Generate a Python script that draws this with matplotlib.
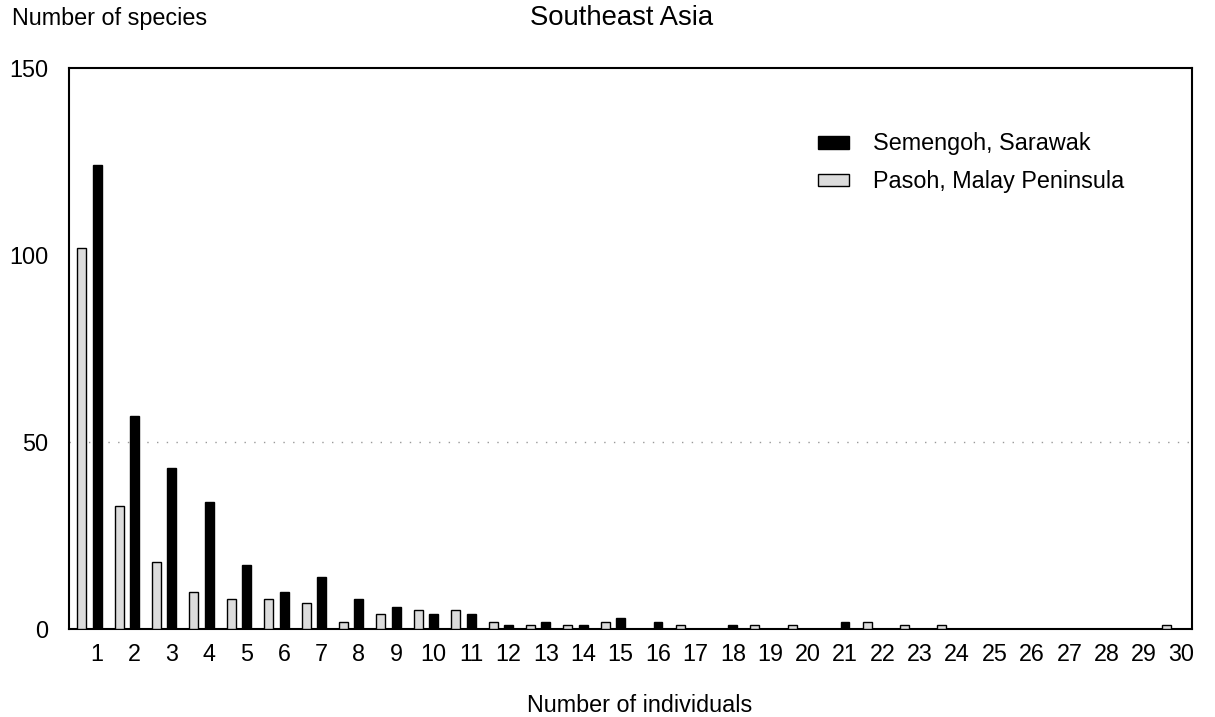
import matplotlib
matplotlib.use("Agg")
import matplotlib.pyplot as plt
from matplotlib.patches import Patch
import numpy as np

plt.rcParams['font.family'] = ['Liberation Sans', 'DejaVu Sans']

categories = list(range(1, 31))
semengoh = [124, 57, 43, 34, 17, 10, 14, 8, 6, 4, 4, 1, 2, 1, 3, 2, 0, 1, 0, 0, 2, 0, 0, 0, 0, 0, 0, 0, 0, 0]
pasoh = [102, 33, 18, 10, 8, 8, 7, 2, 4, 5, 5, 2, 1, 1, 2, 0, 1, 0, 1, 1, 0, 2, 1, 1, 0, 0, 0, 0, 0, 1]
yticks = [0, 50, 100, 150]
series_names = ["Semengoh, Sarawak", "Pasoh, Malay Peninsula"]

fs = 16.8
fig = plt.figure(figsize=(12.15, 7.17), dpi=100)
ax = fig.add_axes([0.0568, 0.1227, 0.9243, 0.7825])

x = np.array(categories, dtype=float)
w = 0.24
pasoh_fill = '#dcdcdc'
ax.bar(x - 0.41, pasoh, width=w, color=pasoh_fill, edgecolor='black', linewidth=1.0, zorder=3)
ax.bar(x, semengoh, width=w, color='black', edgecolor='black', linewidth=1.0, zorder=3)

ax.set_xlim(0.25, 30.28)
ax.set_ylim(0, 150)
ax.set_yticks(yticks)
ax.set_xticks(categories)
ax.set_xticklabels([str(c) for c in categories])
ax.tick_params(axis='both', length=0, labelsize=fs)
ax.tick_params(axis='y', pad=15)
ax.tick_params(axis='x', pad=10)
ax.axhline(50, color='#999999', linestyle=(0, (1, 6)), linewidth=1.0, zorder=1)
for s in ax.spines.values():
    s.set_linewidth(1.5)

handles = [Patch(facecolor='black', edgecolor='black'),
           Patch(facecolor=pasoh_fill, edgecolor='black')]
ax.legend(handles, series_names, loc='upper left', bbox_to_anchor=(0.667, 0.885),
          frameon=False, fontsize=fs, handlelength=1.33, handleheight=0.46,
          handletextpad=1.02, labelspacing=0.63, borderpad=0, borderaxespad=0)

fig.text(12 / 1215, 1 - 19 / 717, "Number of species", fontsize=fs, ha='left', va='center')
fig.text(622 / 1215, 1 - 18 / 717, "Southeast Asia", fontsize=19.8, ha='center', va='center')
fig.text(640 / 1215, 1 - 705 / 717, "Number of individuals", fontsize=fs, ha='center', va='center')

fig.savefig("out.png", dpi=100)
